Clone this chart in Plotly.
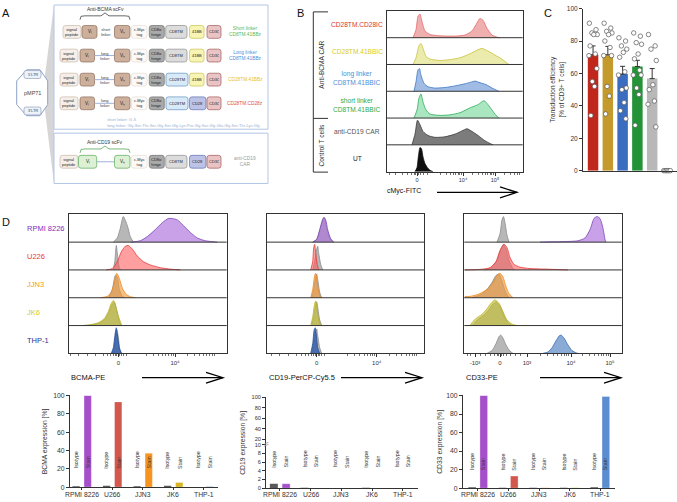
import plotly.graph_objects as go
import numpy as np

W, H = 677, 502
FONT = "Liberation Sans, Arial, sans-serif"
NARROW = "Liberation Sans Narrow, Liberation Sans, Arial, sans-serif"
DARK = "#333333"

def X(p): return p / W
def Y(p): return 1 - p / H

# ======================= DATA =======================
# ---- Panel B: cMyc-FITC histograms (x: display channel, 0 = "0", 46 = 1e4, 78 = 1e5; y: relative count)
b_row_labels = ["CD28TM.CD28IC", "CD28TM.41BBIC", "long linker<br>CD8TM.41BBIC",
                "short linker<br>CD8TM.41BBIC", "anti-CD19 CAR", "UT"]
b_cd28ic_x = [-4, -1, 1, 3, 5, 8, 13, 23, 38, 48, 55, 60, 63, 66, 70, 75, 80, 83]
b_cd28ic_y = [0, 0.3, 0.8, 0.88, 0.6, 0.25, 0.12, 0.07, 0.06, 0.1, 0.25, 0.55, 0.72, 0.65, 0.35, 0.1, 0.02, 0]
b_41bbic_x = [-4, -1, 2, 4, 6, 9, 13, 23, 33, 43, 53, 61, 65, 71, 78, 85, 90, 92]
b_41bbic_y = [0, 0.25, 0.7, 0.78, 0.6, 0.3, 0.2, 0.15, 0.18, 0.25, 0.4, 0.55, 0.6, 0.5, 0.35, 0.2, 0.05, 0]
b_long_x = [-3, -1, 1, 2.5, 4, 7, 11, 18, 28, 38, 48, 55, 58, 63, 69, 75, 80, 82]
b_long_y = [0, 0.35, 0.8, 0.85, 0.6, 0.3, 0.17, 0.12, 0.14, 0.2, 0.28, 0.35, 0.38, 0.32, 0.25, 0.12, 0.03, 0]
b_short_x = [-3, 0, 2, 4, 6, 9, 13, 23, 33, 43, 53, 61, 67, 71, 75, 79, 82]
b_short_y = [0, 0.3, 0.75, 0.9, 0.6, 0.3, 0.15, 0.1, 0.12, 0.2, 0.38, 0.5, 0.65, 0.5, 0.3, 0.1, 0]
b_cd19_x = [-5, -2, 0.5, 3, 6, 11, 18, 28, 38, 45, 50, 55, 61, 68, 73, 76]
b_cd19_y = [0, 0.4, 0.92, 0.75, 0.5, 0.35, 0.28, 0.3, 0.4, 0.52, 0.6, 0.5, 0.35, 0.15, 0.05, 0]
b_ut_x = [-2, 0, 1.5, 3, 4.5, 6, 8, 11, 14, 16]
b_ut_y = [0, 0.15, 0.6, 0.9, 0.85, 0.55, 0.3, 0.12, 0.03, 0]
b_ticktext = ["0", "10⁴", "10⁵"]

# ---- Panel C: transduction efficiency [% of CD3+ T cells]
c_groups = ["CD28TM.CD28IC", "CD28TM.41BBIC", "long linker", "short linker", "anti-CD19 CAR", "UT"]
c_mean = [71.5, 71.5, 59.6, 64.3, 56.8, 0]
c_sem = [5.5, 5.2, 4.8, 3.8, 6.2, 0]
c_pts_cd28ic = [91, 87, 85, 84, 84, 77, 72, 71, 63, 55, 52, 34]
c_pts_41bbic = [91, 88, 86, 85, 84, 80, 76, 71, 71, 52, 46, 35]
c_pts_long = [82, 80, 77, 75, 73, 70, 61, 59, 51, 50, 42, 37, 32]
c_pts_short = [85, 83, 79, 78, 72, 69, 62, 59, 59, 51, 47, 28]
c_pts_cd19 = [84, 77, 75, 68, 53, 50, 43, 41, 27]
c_pts_ut = [0, 0, 0, 0, 0, 0]
c_ticks = [0, 20, 40, 60, 80, 100]

# ---- Panel D: histograms (x: display channel; y: relative count)
d_lines_hist = ["RPMI 8226", "U226", "JJN3", "JK6", "THP-1"]
# BCMA-PE (0 = "0", 56.7 = 1e4)
bcma_rpmi_iso_x = [-5, -1, 2, 5, 9, 12, 15]
bcma_rpmi_iso_y = [0, 0.15, 0.5, 0.92, 0.6, 0.2, 0]
bcma_rpmi_x = [13, 22, 29, 37, 44, 50, 54, 59, 65, 72, 79, 87, 99]
bcma_rpmi_y = [0, 0.05, 0.2, 0.45, 0.7, 0.85, 0.85, 0.8, 0.6, 0.35, 0.15, 0.05, 0]
bcma_u266_iso_x = [-5, -3.5, -2, -0.5, 1, 2.5]
bcma_u266_iso_y = [0, 0.3, 0.88, 0.45, 0.08, 0]
bcma_u266_x = [-12, -6, -1, 3, 7, 10, 14, 19, 25, 32, 42, 52, 62]
bcma_u266_y = [0, 0.05, 0.3, 0.65, 0.85, 0.88, 0.75, 0.5, 0.3, 0.18, 0.08, 0.03, 0]
bcma_jjn3_iso_x = [-10, -6, -3, -1, 1, 4, 6]
bcma_jjn3_iso_y = [0, 0.3, 0.8, 0.75, 0.3, 0.05, 0]
bcma_jjn3_x = [-18, -11, -7, -4, -1.6, 1, 4, 8, 12, 17]
bcma_jjn3_y = [0, 0.05, 0.2, 0.55, 0.88, 0.7, 0.35, 0.12, 0.04, 0]
bcma_jk6_iso_x = [-34, -26, -18, -13, -9, -6, -4, -2, 1, 3]
bcma_jk6_iso_y = [0, 0.03, 0.1, 0.25, 0.5, 0.78, 0.85, 0.6, 0.15, 0]
bcma_jk6_x = [-36, -28, -20, -14, -10, -7, -5, -3, 0, 3, 4]
bcma_jk6_y = [0, 0.03, 0.1, 0.25, 0.5, 0.8, 0.9, 0.75, 0.35, 0.05, 0]
bcma_thp1_iso_x = [-6, -4, -2.5, -1.5, 0, 1.5, 3.5]
bcma_thp1_iso_y = [0, 0.2, 0.7, 0.85, 0.6, 0.15, 0]
bcma_thp1_x = [-7, -5, -3, -2, -1, 1, 3]
bcma_thp1_y = [0, 0.2, 0.75, 0.92, 0.7, 0.2, 0]
# CD19-PerCP-Cy5.5 (0 = "0", 60 = 1e4)
cd19_rpmi_iso_x = [-4, 0, 3, 6, 7, 8, 10, 13, 17]
cd19_rpmi_iso_y = [0, 0.1, 0.4, 0.8, 0.9, 0.85, 0.5, 0.15, 0]
cd19_rpmi_x = [-4, 0, 3, 6, 7.5, 9, 11, 14, 17]
cd19_rpmi_y = [0, 0.1, 0.45, 0.82, 0.88, 0.8, 0.45, 0.12, 0]
cd19_u266_iso_x = [-4, -2, 0, 1, 2, 4, 6]
cd19_u266_iso_y = [0, 0.3, 0.75, 0.85, 0.6, 0.2, 0]
cd19_u266_x = [-6, -4, -3, -2, -1, 0.5, 2]
cd19_u266_y = [0, 0.3, 0.8, 0.92, 0.6, 0.2, 0]
cd19_jjn3_iso_x = [-5, -3, -1, 0, 1, 3, 5]
cd19_jjn3_iso_y = [0, 0.3, 0.75, 0.85, 0.65, 0.2, 0]
cd19_jjn3_x = [-6, -4, -2, -1, 0, 2, 4]
cd19_jjn3_y = [0, 0.3, 0.8, 0.88, 0.7, 0.2, 0]
cd19_jk6_iso_x = [-5, -3, -1, 0, 1, 3, 5]
cd19_jk6_iso_y = [0, 0.3, 0.75, 0.85, 0.65, 0.2, 0]
cd19_jk6_x = [-6, -4, -2, -1, 0, 2, 4]
cd19_jk6_y = [0, 0.3, 0.8, 0.88, 0.7, 0.2, 0]
cd19_thp1_iso_x = [-5, -3, -1, 0, 1, 3, 5]
cd19_thp1_iso_y = [0, 0.35, 0.8, 0.88, 0.65, 0.2, 0]
cd19_thp1_x = [-6, -4, -2.5, -1.5, -0.5, 1, 3]
cd19_thp1_y = [0, 0.35, 0.85, 0.92, 0.7, 0.2, 0]
# CD33-PE (0 = "0", -25 = -1e3, 27 = 1e3, 71 = 1e4, 110 = 1e5)
cd33_rpmi_iso_x = [-3, 0, 2, 3.5, 5, 7, 9]
cd33_rpmi_iso_y = [0, 0.3, 0.8, 0.92, 0.7, 0.25, 0]
cd33_rpmi_x = [40, 50, 65, 78, 85, 90, 94, 97, 100, 103, 105, 106]
cd33_rpmi_y = [0, 0.01, 0.02, 0.05, 0.15, 0.45, 0.85, 0.92, 0.85, 0.5, 0.1, 0]
cd33_u266_iso_x = [-15, -8, -3, 1, 3.5, 6, 9, 13, 15]
cd33_u266_iso_y = [0, 0.1, 0.35, 0.75, 0.92, 0.75, 0.35, 0.05, 0]
cd33_u266_x = [-35, -20, -10, -4, 0, 4, 7, 10, 14, 20, 30, 45, 68]
cd33_u266_y = [0, 0.02, 0.08, 0.3, 0.7, 0.93, 0.8, 0.45, 0.2, 0.1, 0.05, 0.03, 0]
cd33_jjn3_iso_x = [-28, -20, -13, -8, -4, -1, 2, 5, 8, 10]
cd33_jjn3_iso_y = [0, 0.1, 0.3, 0.55, 0.8, 0.85, 0.6, 0.25, 0.05, 0]
cd33_jjn3_x = [-35.5, -35, -30, -22, -15, -10, -6, -3, 0, 3, 6, 9, 13]
cd33_jjn3_y = [0, 0.04, 0.05, 0.12, 0.25, 0.4, 0.6, 0.8, 0.88, 0.75, 0.4, 0.15, 0]
cd33_jk6_iso_x = [-28, -25, -21, -16, -11, -7, -4, 0, 4, 8, 12]
cd33_jk6_iso_y = [0, 0.12, 0.25, 0.38, 0.58, 0.78, 0.85, 0.7, 0.35, 0.1, 0]
cd33_jk6_x = [-30, -27, -23, -18, -13, -9, -5, -1, 3, 7, 12, 17]
cd33_jk6_y = [0, 0.15, 0.28, 0.4, 0.6, 0.8, 0.92, 0.8, 0.5, 0.2, 0.05, 0]
cd33_thp1_iso_x = [-13, -8, -4, -1, 0.7, 3, 6, 10, 13]
cd33_thp1_iso_y = [0, 0.1, 0.35, 0.6, 0.66, 0.55, 0.3, 0.08, 0]
cd33_thp1_x = [43, 48, 52, 56, 59, 61, 64, 68, 72, 76, 78]
cd33_thp1_y = [0, 0.05, 0.2, 0.45, 0.62, 0.66, 0.55, 0.3, 0.1, 0.02, 0]

# ---- Panel D: expression bar charts [%]
d_lines = ["RPMI 8226", "U266", "JJN3", "JK6", "THP-1"]
bcma_iso = [1.0, 1.5, 1.0, 1.5, 0.3]
bcma_stain = [100, 93, 37, 5, 1]
cd19_iso = [1.0, 0.1, 0.05, 0.1, 0.05]
cd19_stain = [1.0, 0.05, 0.05, 0.05, 0.05]
cd33_iso = [1.0, 0.3, 0.3, 0.3, 1.0]
cd33_stain = [100, 13, 0.5, 0.5, 99]
cd19_ticks = [0, 2, 4, 6, 8, 10, 20, 40, 60, 80, 100]
pct_ticks = [0, 20, 40, 60, 80, 100]

# ======================= FIGURE =======================
fig = go.Figure()
ann, shp = [], []
lay = {}

def text(px_, py_, s, size=7, color=DARK, xanchor="center", yanchor="middle", angle=0, family=FONT):
    ann.append(dict(x=X(px_), y=Y(py_), xref="paper", yref="paper", text=s, showarrow=False,
                    font=dict(size=size, color=color, family=family), xanchor=xanchor,
                    yanchor=yanchor, textangle=angle))

def pline(x0, y0, x1, y1, color=DARK, width=1):
    shp.append(dict(type="line", xref="paper", yref="paper", x0=X(x0), y0=Y(y0), x1=X(x1), y1=Y(y1),
                    line=dict(color=color, width=width)))

def ppath(pts, fill=None, color=DARK, width=1, closed=True):
    d = "M " + " L ".join(f"{X(a):.5f},{Y(b):.5f}" for a, b in pts) + (" Z" if closed else "")
    shp.append(dict(type="path", xref="paper", yref="paper", path=d,
                    fillcolor=fill if fill else "rgba(0,0,0,0)", line=dict(color=color, width=width)))

def rrect(x0, y0, x1, y1, fill, lc, r=2.5, lw=0.7):
    def P(a, b): return f"{X(a):.5f},{Y(b):.5f}"
    d = (f"M {P(x0+r,y0)} L {P(x1-r,y0)} Q {P(x1,y0)} {P(x1,y0+r)} L {P(x1,y1-r)} "
         f"Q {P(x1,y1)} {P(x1-r,y1)} L {P(x0+r,y1)} Q {P(x0,y1)} {P(x0,y1-r)} L {P(x0,y0+r)} "
         f"Q {P(x0,y0)} {P(x0+r,y0)} Z")
    shp.append(dict(type="path", xref="paper", yref="paper", path=d, fillcolor=fill,
                    line=dict(color=lc, width=lw)))

def arrow(x0, x1, yc):
    pline(x0, yc, x1, yc, "#000", 1.3)
    ppath([(x1 - 17, yc - 5.5), (x1, yc), (x1 - 17, yc + 5.5)], None, "#000", 1.3, closed=False)

# ---------------- Panel A (schematic) ----------------
text(6, 9, "A", 11, "#111")
ppath([(45, 72), (54, 1), (54, 182), (45, 108)], "#d6d6d6", "rgba(0,0,0,0)", 0)
ppath([(26.7, 66.7), (40, 66.7), (47.7, 78), (47.7, 102), (40, 113.3), (26.7, 113.3), (16.7, 102), (16.7, 78)],
      "#ffffff", "#8ea2c8", 1)
rrect(24, 67.5, 41, 75.5, "#eef2fa", "#8090b0", 2, 0.6)
rrect(24, 104.5, 41, 112.5, "#eef2fa", "#8090b0", 2, 0.6)
text(32.5, 71.5, "5'LTR", 4, "#444", family=NARROW)
text(32.5, 108.5, "3'LTR", 4, "#444", family=NARROW)
text(32, 90, "pMP71", 5.5, "#444")
shp.append(dict(type="rect", xref="paper", yref="paper", x0=X(54), x1=X(268), y0=Y(127), y1=Y(1),
                line=dict(color="#b3c6e6", width=1)))
shp.append(dict(type="rect", xref="paper", yref="paper", x0=X(54), x1=X(268), y0=Y(182), y1=Y(131),
                line=dict(color="#b3c6e6", width=1)))

ST = {
    "sp": ("#f6efe9", "#c9b8a8"), "vb": ("#ccb09c", "#8c6c58"), "vg": ("#dcf0d4", "#5aa85a"),
    "myc": ("#fcf9f7", "#e6dcd4"), "hinge": ("#a9a9a9", "#6e6e6e"), "cd8tm": ("#dcdcdc", "#8e8e8e"),
    "bb": ("#f8f4b4", "#c8c050"), "z": ("#eac4c4", "#a05858"), "cd28tm": ("#d8e9f7", "#6090c0"),
    "cd28": ("#bcc3e6", "#6070b0"),
}

def element(x0, x1, yc, key, label, size=4.0):
    rrect(x0, yc - 6.5, x1, yc + 6.5, ST[key][0], ST[key][1])
    text((x0 + x1) / 2, yc, label, size, "#222", family=NARROW)

def construct(yc, vkey, linker, tm, costim, sp_x0=60, vl=(80, 94.5)):
    element(sp_x0, sp_x0 + 18, yc, "sp", "signal<br>peptide")
    element(vl[0], vl[1], yc, vkey, "Vₗ", 4.6)
    if linker == "short":
        text(105.5, yc, "short<br>linker", 4.0, "#444", family=NARROW)
    else:
        pline(vl[1], yc, 114.5, yc, "#9fb2d6", 1)
        if linker == "long":
            text(104.5, yc, "long<br>linker", 4.0, "#444", family=NARROW)
    element(114.5, 130, yc, vkey, "Vₕ", 4.6)
    element(131.5, 147, yc, "myc", "c-Myc<br>tag")
    element(149.3, 164.3, yc, "hinge", "CD8α<br>hinge")
    if tm == "cd8":
        element(165.7, 187, yc, "cd8tm", "CD8TM")
    else:
        element(166, 188, yc, "cd28tm", "CD28TM")
    if costim == "bb":
        element(189.5, 204, yc, "bb", "41BB")
    else:
        element(189.5, 206, yc, "cd28", "CD28")
    element(207, 221, yc, "z", "CD3ζ")

text(105, 5.5, "Anti-BCMA scFv", 5, "#333")
ppath([(80, 16), (81, 12.5), (85, 12), (101, 12), (105, 9), (109, 12), (125, 12), (129, 12.5), (130, 16)],
      None, "#444", 0.8, closed=False)
construct(28.3, "vb", "short", "cd8", "bb", sp_x0=63, vl=(82, 97))
construct(52.3, "vb", "long", "cd8", "bb")
construct(76.7, "vb", "long", "cd28", "bb")
construct(100.7, "vb", "long", "cd28", "cd28")
text(245, 28.3, "Short linker<br>CD8TM.41BBz", 4.8, "#5cb85c")
text(245, 52.3, "Long linker<br>CD8TM.41BBz", 4.8, "#4a90d9")
text(245, 76.7, "CD28TM.41BBz", 4.8, "#e9c21a")
text(245, 100.7, "CD28TM.CD28z", 4.8, "#e0524f")
text(105, 117, "short linker: G₄S", 4, "#9aaed0", xanchor="left", family=NARROW)
text(105, 123, "long linker: Gly-Ser-Thr-Ser-Gly-Ser-Gly-Lys-Pro-Gly-Ser-Gly-Glu-Gly-Ser-Thr-Lys-Gly",
     4, "#9aaed0", xanchor="left", family=NARROW)
text(105, 140, "Anti-CD19 scFv", 5, "#333")
ppath([(80, 151), (81, 147.5), (85, 147), (101, 147), (105, 144), (109, 147), (125, 147), (129, 147.5), (130, 151)],
      None, "#5aa85a", 0.8, closed=False)
construct(160, "vg", "none", "cd8", "cd28", vl=(78.5, 96.7))
text(245, 160, "anti-CD19<br>CAR", 4.8, "#999999")

# ---------------- Panel B ----------------
text(300, 9, "B", 11, "#111")
B_COL = [("#e36b6b", "rgba(226,110,110,0.55)", "#d9342b"),
         ("#c9c23a", "rgba(224,222,120,0.6)", "#d8cc1c"),
         ("#3f76c4", "rgba(96,144,210,0.6)", "#4a8fd8"),
         ("#2fae5c", "rgba(100,210,140,0.55)", "#2eaa4a"),
         ("#3a3a3a", "rgba(110,110,110,0.9)", "#555555"),
         ("#111111", "rgba(15,15,15,1)", "#222222")]
b_curves = [(b_cd28ic_x, b_cd28ic_y), (b_41bbic_x, b_41bbic_y), (b_long_x, b_long_y),
            (b_short_x, b_short_y), (b_cd19_x, b_cd19_y), (b_ut_x, b_ut_y)]

def hist_trace(xs, ys, base, ax, lc, fc):
    return go.Scatter(x=xs, y=[base + v for v in ys], mode="lines", fill="toself", fillcolor=fc,
                      line=dict(color=lc, width=0.8, shape="spline", smoothing=0.6),
                      xaxis="x" + ax, yaxis="y" + ax, hoverinfo="skip", showlegend=False)

def log_minor(pos1, width, start=2):
    out = []
    for dec in pos1:
        for k in range(start, 10):
            out.append(dec + width * np.log10(k))
    return out

def hist_axes(i, x0, x1, y0, y1, xr, nrows, tv, tt, minor, tsize=5.5):
    sfx = "" if i == 1 else str(i)
    lay[f"xaxis{sfx}"] = dict(domain=[X(x0), X(x1)], range=xr, anchor=f"y{sfx}", showline=True, mirror=True,
                              linecolor=DARK, linewidth=1, ticks="outside", ticklen=3, tickwidth=1,
                              tickcolor=DARK, tickmode="array", tickvals=tv, ticktext=tt,
                              tickfont=dict(size=tsize, color=DARK), showgrid=False, zeroline=False,
                              minor=dict(tickmode="array", tickvals=minor, ticks="outside", ticklen=2,
                                         tickwidth=0.7, tickcolor=DARK, showgrid=False))
    lay[f"yaxis{sfx}"] = dict(domain=[Y(y1), Y(y0)], range=[0, nrows], anchor=f"x{sfx}", showline=True,
                              mirror=True, linecolor=DARK, linewidth=1, showticklabels=False, ticks="",
                              showgrid=False, zeroline=False)
    for k in range(1, nrows):
        shp.append(dict(type="line", xref=f"x{sfx} domain", yref=f"y{sfx}", x0=0, x1=1, y0=k, y1=k,
                        line=dict(color=DARK, width=1)))

b_minor = ([-28, -22, -15, -10, -6, -3, -1.5, 1.5, 3, 6, 10] + log_minor([14, 46, 78], 32))
b_minor = [v for v in b_minor if v < 105]
hist_axes(1, 386.7, 522.7, 7, 170, [-30.3, 105.7], 6, [0, 46, 78], b_ticktext, b_minor, 5.5)
for r, ((xs, ys), (lc, fc, tc)) in enumerate(zip(b_curves, B_COL)):
    fig.add_trace(hist_trace(xs, ys, 5 - r, "", lc, fc))
    yc = 7 + (r + 0.5) * (163 / 6)
    text(357, yc, b_row_labels[r], 6.6, tc)
pline(313.3, 8, 313.3, 170.5, DARK, 1)
pline(313.3, 8, 328, 8, DARK, 1)
pline(313.3, 116, 328, 116, DARK, 1)
pline(313.3, 170.5, 328, 170.5, DARK, 1)
text(321.5, 62, "Anti-BCMA CAR", 6.6, DARK, angle=-90)
text(321.5, 143, "Control T cells", 6.6, DARK, angle=-90)
text(404, 190, "cMyc-FITC", 7, "#111")
arrow(437, 517, 191)

# ---------------- Panel C ----------------
text(548, 9, "C", 11, "#111")
C_COL = ["#c0281c", "#c49a2c", "#3a6cc0", "#249338", "#b8b8b8", "rgba(0,0,0,0)"]
cx = list(range(len(c_groups)))
fig.add_trace(go.Bar(x=cx, y=c_mean, width=0.71, marker=dict(color=C_COL, line=dict(width=0)),
                     error_y=dict(type="data", symmetric=False, array=c_sem, arrayminus=[0] * 6,
                                  color="#333", thickness=1, width=2.5),
                     xaxis="x2", yaxis="y2", hoverinfo="skip", showlegend=False))
JIT = [-0.25, 0.2, -0.08, 0.28, 0.05, -0.2, 0.15, -0.28, 0.25, -0.05, 0.1, -0.15, 0.22]
UTJ = [-0.22, -0.13, -0.04, 0.05, 0.14, 0.23]
for g, pts in enumerate([c_pts_cd28ic, c_pts_41bbic, c_pts_long, c_pts_short, c_pts_cd19, c_pts_ut]):
    offs = UTJ if g == 5 else JIT
    fig.add_trace(go.Scatter(x=[g + offs[k % len(offs)] for k in range(len(pts))], y=pts, mode="markers",
                             marker=dict(symbol="circle", size=4.5, color="white",
                                         line=dict(color="#555", width=0.7)),
                             xaxis="x2", yaxis="y2", hoverinfo="skip", showlegend=False, cliponaxis=False))
lay["xaxis2"] = dict(domain=[X(583), X(677)], range=[-0.68, 5.68], anchor="y2", showline=True,
                     linecolor=DARK, linewidth=1, showticklabels=False, ticks="", showgrid=False, zeroline=False)
lay["yaxis2"] = dict(domain=[Y(169), Y(4.7)], range=[0, 100], anchor="x2", showline=True, linecolor=DARK,
                     linewidth=1, ticks="outside", ticklen=3, tickcolor=DARK, tickvals=c_ticks,
                     tickfont=dict(size=6.5, color=DARK), showgrid=False, zeroline=False)
text(557, 87, "Transduction efficiency<br>[% of CD3+ T cells]", 6.5, DARK, angle=-90)

# ---------------- Panel D histograms ----------------
text(6, 221, "D", 11, "#111")
D_TXT = ["#7b2fbe", "#e8392e", "#f39c12", "#d4cc1a", "#2e3192"]
for r, (lab, c) in enumerate(zip(d_lines_hist, D_TXT)):
    text(25, 227.7 + r * 28.3, lab, 7.5, c, xanchor="left")

ISO = ("#8a8a8a", "rgba(165,165,165,0.8)")
D_FILL = [("#7a45b8", "rgba(170,110,220,0.65)"), ("#e83a3a", "rgba(255,95,95,0.6)"),
          ("#f08a20", "rgba(245,155,60,0.65)"), ("#b8b024", "rgba(200,195,40,0.6)"),
          ("#1f4f9e", "rgba(45,90,170,0.8)")]

col1 = [(bcma_rpmi_iso_x, bcma_rpmi_iso_y, bcma_rpmi_x, bcma_rpmi_y),
        (bcma_u266_iso_x, bcma_u266_iso_y, bcma_u266_x, bcma_u266_y),
        (bcma_jjn3_iso_x, bcma_jjn3_iso_y, bcma_jjn3_x, bcma_jjn3_y),
        (bcma_jk6_iso_x, bcma_jk6_iso_y, bcma_jk6_x, bcma_jk6_y),
        (bcma_thp1_iso_x, bcma_thp1_iso_y, bcma_thp1_x, bcma_thp1_y)]
col2 = [(cd19_rpmi_iso_x, cd19_rpmi_iso_y, cd19_rpmi_x, cd19_rpmi_y),
        (cd19_u266_iso_x, cd19_u266_iso_y, cd19_u266_x, cd19_u266_y),
        (cd19_jjn3_iso_x, cd19_jjn3_iso_y, cd19_jjn3_x, cd19_jjn3_y),
        (cd19_jk6_iso_x, cd19_jk6_iso_y, cd19_jk6_x, cd19_jk6_y),
        (cd19_thp1_iso_x, cd19_thp1_iso_y, cd19_thp1_x, cd19_thp1_y)]
col3 = [(cd33_rpmi_iso_x, cd33_rpmi_iso_y, cd33_rpmi_x, cd33_rpmi_y),
        (cd33_u266_iso_x, cd33_u266_iso_y, cd33_u266_x, cd33_u266_y),
        (cd33_jjn3_iso_x, cd33_jjn3_iso_y, cd33_jjn3_x, cd33_jjn3_y),
        (cd33_jk6_iso_x, cd33_jk6_iso_y, cd33_jk6_x, cd33_jk6_y),
        (cd33_thp1_iso_x, cd33_thp1_iso_y, cd33_thp1_x, cd33_thp1_y)]

m1 = [-48, -40, -31, -23, -15, -11, -8, -5, -3, -1.5, 1.5, 3, 5, 8] + [v for v in log_minor([15.7, 56.7], 41) if v < 107]
m2 = [-45, -37, -28, -20, -15, -11, -8, -5, -3, -1.5, 1.5, 3, 5, 8] + [v for v in log_minor([18, 60], 42) if v < 106]
m3 = [-33, -30, -20, -15, -10, -6, -3, -1.5, 1.5, 3, 6, 10, 15, 20] + log_minor([27], 44) + log_minor([71], 39)
m3 = [v for v in m3 if v < 121]
hist_axes(3, 69, 226.7, 213.3, 354.3, [-49.3, 108.4], 5, [0, 56.7], ["0", "10⁴"], m1, 6)
hist_axes(4, 267, 424, 213.3, 354.3, [-49.7, 107.3], 5, [0, 60], ["0", "10⁴"], m2, 6)
hist_axes(5, 464.3, 621.7, 213.3, 354.3, [-35.7, 121.7], 5, [-25, 0, 27, 71, 110],
          ["-10³", "0", "10³", "10⁴", "10⁵"], m3, 6)

for ax, col in [("3", col1), ("4", col2), ("5", col3)]:
    for r, (ix, iy, sx, sy) in enumerate(col):
        base = 4 - r
        fc = D_FILL[r]
        if ax == "5" and r == 4:
            fc = ("#3f6fb0", "rgba(110,150,205,0.8)")
        fig.add_trace(hist_trace(ix, iy, base, ax, ISO[0], ISO[1]))
        fig.add_trace(hist_trace(sx, sy, base, ax, fc[0], fc[1]))

text(69, 379, "BCMA-PE", 7.5, "#111", xanchor="left")
arrow(142, 223, 379)
text(267, 379, "CD19-PerCP-Cy5.5", 7.5, "#111", xanchor="left")
arrow(341, 422, 379)
text(464, 379, "CD33-PE", 7.5, "#111", xanchor="left")
arrow(540, 621, 379)

# ---------------- Panel D bar charts ----------------
def cd19_t(v):
    return v if v <= 10 else 10 + (v - 10) * 0.121

STAIN1 = ["#a54fca", "#d2574c", "#f7931e", "#d8b420", "#a9c2de"]
STAIN3 = ["#a54fca", "#d2574c", "#f7931e", "#c8b020", "#5b8ed0"]

def bar_panel(i, x0, x1, y0, y1, xr, yr, iso, stain, colors, tv, tt, w, off, lab_y, title, tx, tfs=6.8):
    n = len(d_lines)
    fig.add_trace(go.Bar(x=[k - off for k in range(n)], y=iso, width=w,
                         marker=dict(color="#5a5a5a", line=dict(width=0)),
                         xaxis=f"x{i}", yaxis=f"y{i}", hoverinfo="skip", showlegend=False))
    fig.add_trace(go.Bar(x=[k + off for k in range(n)], y=stain, width=w,
                         marker=dict(color=colors, line=dict(width=0.6, color="rgba(255,255,255,0.5)")),
                         xaxis=f"x{i}", yaxis=f"y{i}", hoverinfo="skip", showlegend=False))
    lay[f"xaxis{i}"] = dict(domain=[X(x0), X(x1)], range=xr, anchor=f"y{i}", showline=True, linecolor=DARK,
                            linewidth=1, ticks="outside", ticklen=2, tickcolor=DARK, tickmode="array",
                            tickvals=list(range(n)), showticklabels=False,
                            showgrid=False, zeroline=False)
    lay[f"yaxis{i}"] = dict(domain=[Y(y0), Y(y1)], range=yr, anchor=f"x{i}", showline=True, linecolor=DARK,
                            linewidth=1, ticks="outside", ticklen=3, tickcolor=DARK, tickmode="array",
                            tickvals=tv, ticktext=tt, tickfont=dict(size=tfs, color=DARK),
                            showgrid=False, zeroline=False)
    for k in range(n):
        ann.append(dict(x=k, y=Y(497.5), xref=f"x{i}", yref="paper", text=d_lines[k], showarrow=False,
                        xanchor="center", yanchor="middle", font=dict(size=6.8, color=DARK, family=FONT)))
        for dx, s in [(-off, "Isotype"), (off, "Stain")]:
            ann.append(dict(x=k + dx, y=lab_y, xref=f"x{i}", yref=f"y{i}", text=s, showarrow=False,
                            textangle=-90, xanchor="center", yanchor="bottom",
                            font=dict(size=5.3, color="#333", family=FONT)))
    text(tx, (y0 + y1) / 2, title, 6.8, DARK, angle=-90)

bar_panel(6, 70, 218, 490, 397, [-0.39, 4.46], [0, 100], bcma_iso, bcma_stain, STAIN1,
          pct_ticks, [str(v) for v in pct_ticks], 0.24, 0.19, 18, "BCMA expression [%]", 45)
bar_panel(7, 266, 418, 491, 399, [-0.456, 4.5], [0, cd19_t(100)], [cd19_t(v) for v in cd19_iso],
          [cd19_t(v) for v in cd19_stain], STAIN1[:1] + ["#d2574c", "#f7931e", "#d8b420", "#a9c2de"],
          [cd19_t(v) for v in cd19_ticks], [str(v) for v in cd19_ticks], 0.26, 0.2, 4.3,
          "CD19 expression [%]", 243, 5.6)
bar_panel(8, 463, 615, 491, 397, [-0.49, 4.49], [0, 100], cd33_iso, cd33_stain, STAIN3,
          pct_ticks, [str(v) for v in pct_ticks], 0.25, 0.19, 17, "CD33 expression [%]", 440)
# axis-break mark on the CD19 axis
pline(264, 448.5, 268.5, 446.5, "#999", 0.8)
pline(264, 446.5, 268.5, 444.5, "#999", 0.8)

fig.update_layout(width=W, height=H, margin=dict(l=0, r=0, t=0, b=0), plot_bgcolor="white",
                  paper_bgcolor="white", barmode="overlay", showlegend=False, hovermode=False,
                  font=dict(family=FONT, size=7, color=DARK), annotations=ann, shapes=shp, **lay)
fig.write_html("out.html", config={"displayModeBar": False, "staticPlot": True},
               post_script="document.body.style.margin='0';document.body.style.overflow='hidden';")
